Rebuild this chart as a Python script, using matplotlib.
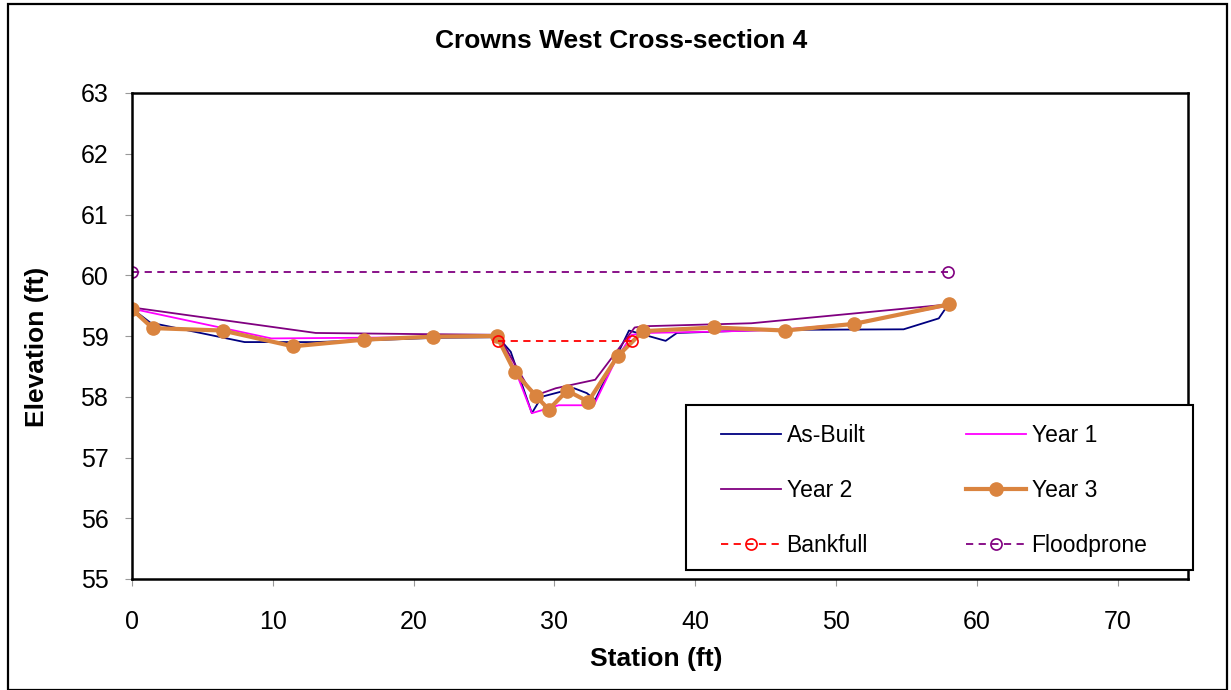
import matplotlib
matplotlib.use("Agg")
import matplotlib.pyplot as plt
from matplotlib.patches import Rectangle

plt.rcParams['font.family'] = ['Liberation Sans', 'DejaVu Sans']

# ---- data ----
asbuilt_x = [0, 1.3, 8.0, 13.0, 17.0, 21.5, 26.0, 26.9, 28.4, 29.1, 31.4, 32.3, 32.9, 35.3, 37.9, 38.7, 45.0, 54.8, 57.3, 57.8, 58.0]
asbuilt_y = [59.45, 59.22, 58.90, 58.90, 58.93, 58.97, 58.98, 58.74, 57.73, 58.00, 58.14, 58.06, 57.95, 59.09, 58.92, 59.05, 59.10, 59.11, 59.29, 59.46, 59.50]

year1_x = [0, 9.9, 21.0, 26.0, 27.2, 28.4, 30.3, 32.8, 34.3, 35.5, 36.5, 41.0, 46.0, 51.0, 58.0]
year1_y = [59.45, 58.96, 58.98, 59.00, 58.45, 57.73, 57.86, 57.86, 58.58, 59.02, 59.05, 59.07, 59.10, 59.20, 59.50]

year2_x = [0, 13.05, 21.0, 26.0, 28.1, 28.75, 30.1, 32.9, 35.7, 36.3, 44.0, 58.0]
year2_y = [59.47, 59.05, 59.03, 59.02, 58.17, 58.03, 58.14, 58.28, 59.14, 59.16, 59.21, 59.52]

year3_x = [0, 1.46, 6.43, 11.44, 16.48, 21.4, 25.9, 27.2, 28.7, 29.6, 30.9, 32.4, 34.5, 36.3, 41.3, 46.4, 51.3, 58.0]
year3_y = [59.44, 59.13, 59.09, 58.83, 58.94, 58.99, 59.00, 58.40, 58.01, 57.79, 58.10, 57.92, 58.67, 59.08, 59.14, 59.09, 59.20, 59.52]

bankfull_x = [25.98, 35.5]
bankfull_y = [58.92, 58.92]

floodprone_x = [0, 57.96]
floodprone_y = [60.06, 60.06]

title = "Crowns West Cross-section 4"
xlabel = "Station (ft)"
ylabel = "Elevation (ft)"
xticks = [0, 10, 20, 30, 40, 50, 60, 70]
yticks = [55, 56, 57, 58, 59, 60, 61, 62, 63]

# ---- figure ----
W, H = 1231, 690
fig = plt.figure(figsize=(W / 100, H / 100), dpi=100)
fig.patches.append(Rectangle((8 / W, 0.0), (1227 - 8) / W, (690 - 4) / H,
                             transform=fig.transFigure, fill=False,
                             edgecolor='black', linewidth=1.6))

AX_L, AX_R, AX_T, AX_B = 132, 1188, 93, 579
ax = fig.add_axes([AX_L / W, 1 - AX_B / H, (AX_R - AX_L) / W, (AX_B - AX_T) / H])

h_ab, = ax.plot(asbuilt_x, asbuilt_y, color='#000080', lw=1.3, label='As-Built')
h_y1, = ax.plot(year1_x, year1_y, color='#FF00FF', lw=1.3, label='Year 1')
h_y2, = ax.plot(year2_x, year2_y, color='#800080', lw=1.3, label='Year 2')
h_y3, = ax.plot(year3_x, year3_y, color='#DA843F', lw=3.0, marker='o', ms=9.5,
                mfc='#DA843F', mec='#DA843F', label='Year 3')
h_bf, = ax.plot(bankfull_x, bankfull_y, color='#FF0000', lw=1.3, ls=(0, (4, 3)),
                marker='o', ms=8, mfc='none', mec='#FF0000', mew=1.2, label='Bankfull')
h_fp, = ax.plot(floodprone_x, floodprone_y, color='#800080', lw=1.3, ls=(0, (4, 3)),
                marker='o', ms=8, mfc='none', mec='#800080', mew=1.2, label='Floodprone')

ax.set_xlim(0, 75)
ax.set_ylim(55, 63)
ax.set_xticks(xticks)
ax.set_yticks(yticks)
ax.tick_params(axis='both', labelsize=18, length=5, width=0.8, color='#999999',
               direction='out')
ax.tick_params(axis='x', pad=17)
ax.tick_params(axis='y', pad=12)
for s in ax.spines.values():
    s.set_linewidth(1.8)
    s.set_color('black')

fig.text(621 / W, 1 - 48 / H, title, fontsize=19, fontweight='bold',
         ha='center', va='baseline')
fig.text(656 / W, 1 - 666 / H, xlabel, fontsize=19, fontweight='bold',
         ha='center', va='baseline')
fig.text(37 / W, 1 - 347 / H, ylabel, fontsize=19, fontweight='bold',
         ha='center', va='center', rotation=90)

# legend frame drawn separately, legend content placed inside it
def ax_frac(px, py):
    return (px - AX_L) / (AX_R - AX_L), (AX_B - py) / (AX_B - AX_T)

fx0, fy0 = ax_frac(686, 570)
fx1, fy1 = ax_frac(1193, 405)
frame = Rectangle((fx0, fy0), fx1 - fx0, fy1 - fy0, transform=ax.transAxes,
                  facecolor='white', edgecolor='black', linewidth=1.5,
                  zorder=5, clip_on=False)
ax.add_patch(frame)

handles = [h_ab, h_y2, h_bf, h_y1, h_y3, h_fp]
lx, ly = ax_frac(721, 424)
leg = ax.legend(handles=handles, labels=[h.get_label() for h in handles],
                ncol=2, loc='upper left', bbox_to_anchor=(lx, ly),
                fontsize=16.5, frameon=False,
                handlelength=2.6, handletextpad=0.26, labelspacing=1.4,
                borderaxespad=0.0, borderpad=0.0, columnspacing=4.28)
leg.set_zorder(6)

fig.savefig('out.png', dpi=100)
